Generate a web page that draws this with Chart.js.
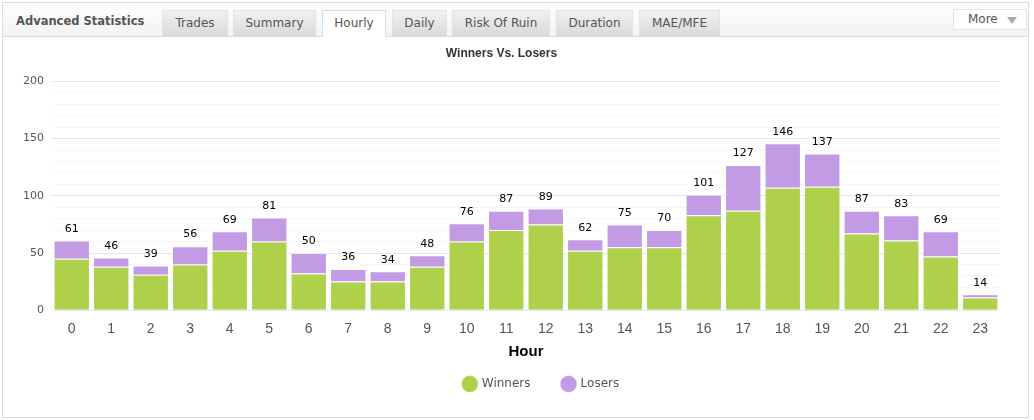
<!DOCTYPE html>
<html lang="en">
<head>
    <meta charset="UTF-8">
    <title>Advanced Statistics - Hourly</title>
    <script src="https://cdn.jsdelivr.net/npm/chart.js@4/dist/chart.umd.min.js"></script>
    <style>
        html, body { margin: 0; padding: 0; background: #fff; }
        body { width: 1034px; height: 420px; position: relative; overflow: hidden; font-family: Verdana, "DejaVu Sans", sans-serif; }

        .box {
            position: absolute; left: 2px; top: 2px; width: 1027px; height: 416px;
            border: 1px solid #dcdcdc; box-sizing: border-box;
        }
        .head {
            position: absolute; left: 0; top: 0; right: 0; height: 33px;
            background: linear-gradient(#ffffff, #f2f2f2);
            border-bottom: 1px solid #dcdcdc;
        }
        .head h3 {
            position: absolute; left: 13px; top: 11px; margin: 0;
            font-size: 11.5px; font-weight: bold; color: #555;
        }
        .tab {
            position: absolute; top: 7px; height: 26px; box-sizing: border-box;
            background: linear-gradient(#f1f1f1, #d9d9d9);
            border: 1px solid #e3e3e3; border-bottom: none;
            font-size: 12px; color: #555; text-align: center; line-height: 25px;
        }
        .tab.on { background: #fff; height: 27px; border-color: #dcdcdc; }
        .more {
            position: absolute; left: 950px; top: 6px; width: 74px; height: 21px; box-sizing: border-box;
            background: #fff; border: 1px solid #e3e3e3;
            font-size: 12px; color: #555; line-height: 19px; padding-left: 14px;
        }
        .more::after {
            content: ""; position: absolute; right: 9px; top: 7px;
            border-left: 5px solid transparent; border-right: 5px solid transparent; border-top: 7px solid #aaa;
        }
        .chart-wrap { position: absolute; left: 0; top: 34px; width: 1025px; height: 380px; }
    </style>
</head>
<body>

<div class="box">
    <div class="head">
        <h3>Advanced Statistics</h3>
        <div class="tab" style="left:159px;width:66px">Trades</div>
        <div class="tab" style="left:230px;width:83px">Summary</div>
        <div class="tab on" style="left:319px;width:64px">Hourly</div>
        <div class="tab" style="left:389px;width:55px">Daily</div>
        <div class="tab" style="left:449px;width:98px">Risk Of Ruin</div>
        <div class="tab" style="left:553px;width:77px">Duration</div>
        <div class="tab" style="left:636px;width:81px">MAE/MFE</div>
        <div class="more">More</div>
    </div>
    <div class="chart-wrap"><canvas id="hourChart"></canvas></div>
</div>

<script>
    // hourly numbers
    var hours = ['0','1','2','3','4','5','6','7','8','9','10','11','12','13','14','15','16','17','18','19','20','21','22','23'];
    var winners = [45, 38, 31, 40, 52, 60, 32, 25, 25, 38, 60, 70, 75, 52, 55, 55, 83, 87, 107, 108, 67, 61, 47, 11];
    var losers  = [16,  8,  8, 16, 17, 21, 18, 11,  9, 10, 16, 17, 14, 10, 20, 15, 18, 40,  39,  29, 20, 22, 22,  3];
    var yTicks = [0, 50, 100, 150, 200];

    var green = '#aed04b';
    var purple = '#c39ae4';

    // writes the hour total above each stacked bar
    var totalsPlugin = {
        id: 'totals',
        afterDatasetsDraw: function (chart) {
            var ctx = chart.ctx;
            var top = chart.getDatasetMeta(1);
            ctx.save();
            ctx.font = '11px "DejaVu Sans", Verdana, sans-serif';
            ctx.fillStyle = '#000';
            ctx.textAlign = 'center';
            ctx.textBaseline = 'bottom';
            hours.forEach(function (h, i) {
                var total = winners[i] + losers[i];
                var x = top.data[i].x;
                var y = chart.scales.y.getPixelForValue(total);
                ctx.fillText(total, x, y - 6);
            });
            ctx.restore();
        }
    };

    // legend sits a bit right of centre, like the original
    var legendShift = {
        id: 'legendShift',
        afterLayout: function (chart) {
            chart.legend.left += 40;
            chart.legend.right += 40;
        }
    };

    Chart.defaults.font.family = '"Liberation Sans", Arial, sans-serif';

    new Chart(document.getElementById('hourChart'), {
        type: 'bar',
        data: {
            labels: hours,
            datasets: [
                { label: 'Winners     ', data: winners, backgroundColor: green, borderColor: 'rgba(255,255,255,0.45)', borderWidth: 1 },
                { label: 'Losers', data: losers, backgroundColor: purple, borderColor: 'rgba(255,255,255,0.45)', borderWidth: 1 }
            ]
        },
        options: {
            responsive: true,
            maintainAspectRatio: false,
            animation: false,
            layout: { padding: { left: 0, right: 28, top: 0, bottom: 17 } },
            datasets: { bar: { barPercentage: 0.92, categoryPercentage: 1 } },
            plugins: {
                title: {
                    display: true,
                    text: 'Winners Vs. Losers',
                    color: '#333',
                    font: { size: 12, weight: 'bold' },
                    padding: { top: 9, bottom: 21 }
                },
                legend: {
                    position: 'bottom',
                    labels: {
                        usePointStyle: true,
                        pointStyle: 'circle',
                        boxWidth: 14,
                        boxHeight: 14,
                        padding: 13,
                        color: '#555',
                        font: { size: 12, family: '"DejaVu Sans", Verdana, sans-serif' }
                    }
                },
                tooltip: { enabled: false }
            },
            scales: {
                x: {
                    stacked: true,
                    grid: { display: false, drawTicks: false },
                    border: { display: false },
                    ticks: { color: '#555', font: { size: 14 }, padding: 11 },
                    title: {
                        display: true,
                        text: 'Hour',
                        color: '#000',
                        font: { size: 15, weight: 'bold' },
                        padding: { top: -6, bottom: 4 }
                    }
                },
                y: {
                    stacked: true,
                    min: 0,
                    max: 200,
                    afterFit: function (scale) { scale.width = 49; },
                    border: { display: false },
                    grid: {
                        drawTicks: false,
                        color: function (c) { return yTicks.indexOf(c.tick.value) >= 0 ? '#e6e6e6' : '#f6f6f6'; }
                    },
                    ticks: {
                        stepSize: 10,
                        autoSkip: false,
                        padding: 8,
                        color: '#555',
                        font: { size: 11, family: '"DejaVu Sans", Verdana, sans-serif' },
                        callback: function (v) { return yTicks.indexOf(v) >= 0 ? v : ''; }
                    }
                }
            }
        },
        plugins: [totalsPlugin, legendShift]
    });
</script>
</body>
</html>
